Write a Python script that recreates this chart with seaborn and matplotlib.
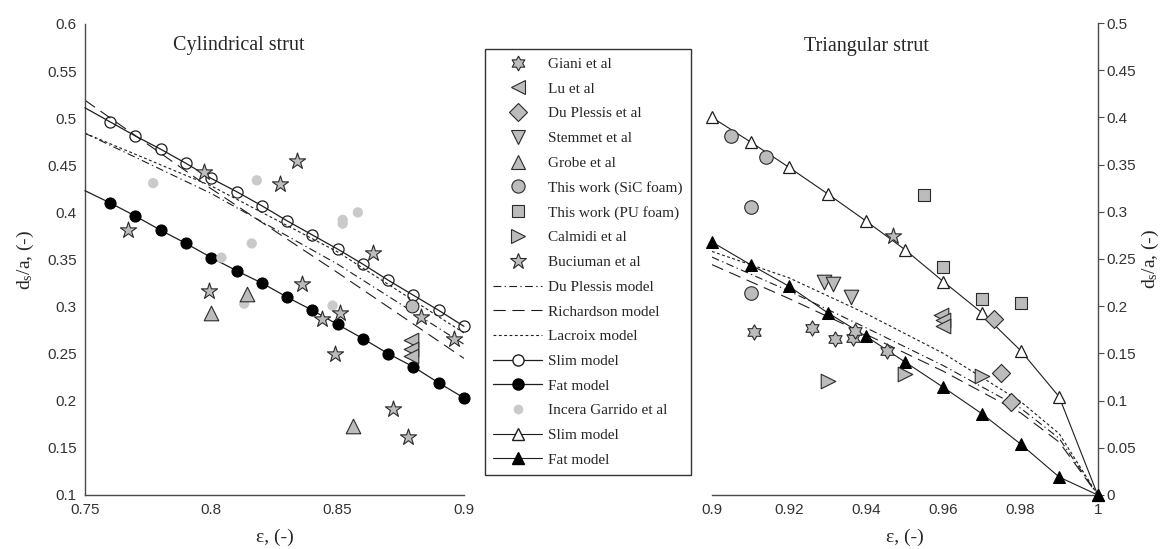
import matplotlib
matplotlib.use("Agg")
import numpy as np
import matplotlib.pyplot as plt
from matplotlib.lines import Line2D
from matplotlib.path import Path
import seaborn as sns

# ---------------- Cylindrical strut (left panel) ----------------
eps_cyl = [0.75, 0.76, 0.77, 0.78, 0.79, 0.80, 0.81, 0.82, 0.83, 0.84,
           0.85, 0.86, 0.87, 0.88, 0.89, 0.90]
slim_cyl = [0.511, 0.496, 0.481, 0.467, 0.452, 0.436, 0.422, 0.407, 0.391,
            0.376, 0.361, 0.345, 0.328, 0.312, 0.296, 0.279]
fat_cyl = [0.423, 0.410, 0.396, 0.381, 0.367, 0.352, 0.338, 0.325, 0.310,
           0.296, 0.281, 0.266, 0.250, 0.236, 0.219, 0.203]

eps_model_cyl = [0.75, 0.80, 0.85, 0.90]
duplessis_cyl = [0.484, 0.420, 0.345, 0.260]
richardson_cyl = [0.519, 0.425, 0.336, 0.245]
lacroix_cyl = [0.484, 0.428, 0.358, 0.272]

buciuman_cyl_x = [0.767, 0.797, 0.799, 0.827, 0.834, 0.836, 0.844, 0.849,
                  0.851, 0.864, 0.872, 0.878, 0.883, 0.896]
buciuman_cyl_y = [0.381, 0.443, 0.317, 0.430, 0.455, 0.324, 0.287, 0.250,
                  0.293, 0.357, 0.191, 0.162, 0.289, 0.266]
grobe_cyl_x = [0.800, 0.814, 0.856]
grobe_cyl_y = [0.293, 0.313, 0.173]
lu_cyl_x = [0.879, 0.879, 0.879]
lu_cyl_y = [0.264, 0.255, 0.248]
sic_cyl_x = [0.8795]
sic_cyl_y = [0.301]
incera_x = [0.777, 0.804, 0.813, 0.816, 0.818, 0.848, 0.852, 0.852, 0.858]
incera_y = [0.431, 0.352, 0.303, 0.367, 0.434, 0.301, 0.392, 0.388, 0.400]

# ---------------- Triangular strut (right panel) ----------------
eps_tri = [0.90, 0.91, 0.92, 0.93, 0.94, 0.95, 0.96, 0.97, 0.98, 0.99, 1.00]
slim_tri = [0.400, 0.374, 0.347, 0.319, 0.290, 0.260, 0.226, 0.193, 0.153,
            0.104, 0.0]
fat_tri = [0.268, 0.244, 0.221, 0.193, 0.168, 0.141, 0.114, 0.086, 0.054,
           0.019, 0.0]

eps_model_tri = [0.90, 0.92, 0.94, 0.96, 0.98, 0.99, 1.00]
lacroix_tri = [0.258, 0.230, 0.192, 0.150, 0.099, 0.065, 0.0]
duplessis_tri = [0.252, 0.216, 0.177, 0.137, 0.092, 0.060, 0.0]
richardson_tri = [0.244, 0.208, 0.170, 0.131, 0.087, 0.056, 0.0]

sic_tri_x = [0.905, 0.910, 0.914, 0.910]
sic_tri_y = [0.380, 0.305, 0.358, 0.214]
pu_tri_x = [0.955, 0.960, 0.970, 0.980]
pu_tri_y = [0.318, 0.241, 0.208, 0.203]
stemmet_x = [0.929, 0.9315, 0.936]
stemmet_y = [0.226, 0.224, 0.210]
lu_tri_x = [0.9595, 0.960, 0.960]
lu_tri_y = [0.191, 0.185, 0.179]
dup_pts_x = [0.973, 0.975, 0.9775]
dup_pts_y = [0.186, 0.129, 0.098]
calmidi_x = [0.930, 0.950, 0.970]
calmidi_y = [0.121, 0.128, 0.126]
giani_x = [0.911, 0.926, 0.932, 0.9365, 0.937, 0.9455]
giani_y = [0.173, 0.177, 0.165, 0.166, 0.174, 0.152]
buciuman_tri_x = [0.947]
buciuman_tri_y = [0.274]

# ---------------- ticks and labels ----------------
xticks_cyl = [0.75, 0.80, 0.85, 0.90]
xlabels_cyl = ["0.75", "0.8", "0.85", "0.9"]
yticks_cyl = [0.10, 0.15, 0.20, 0.25, 0.30, 0.35, 0.40, 0.45, 0.50, 0.55, 0.60]
ylabels_cyl = ["0.1", "0.15", "0.2", "0.25", "0.3", "0.35", "0.4", "0.45",
               "0.5", "0.55", "0.6"]
xticks_tri = [0.90, 0.92, 0.94, 0.96, 0.98, 1.00]
xlabels_tri = ["0.9", "0.92", "0.94", "0.96", "0.98", "1"]
yticks_tri = [0.0, 0.05, 0.10, 0.15, 0.20, 0.25, 0.30, 0.35, 0.40, 0.45, 0.50]
ylabels_tri = ["0", "0.05", "0.1", "0.15", "0.2", "0.25", "0.3", "0.35",
               "0.4", "0.45", "0.5"]

legend_labels = ["Giani et al", "Lu et al", "Du Plessis et al", "Stemmet et al",
                 "Grobe et al", "This work (SiC foam)", "This work (PU foam)",
                 "Calmidi et al", "Buciuman et al", "Du Plessis model",
                 "Richardson model", "Lacroix model", "Slim model", "Fat model",
                 "Incera Garrido et al", "Slim model", "Fat model"]

sns.set_style("white")
plt.rcParams["font.family"] = ["Liberation Serif", "DejaVu Serif"]
plt.rcParams["mathtext.fontset"] = "custom"
plt.rcParams["mathtext.rm"] = "Liberation Serif"
plt.rcParams["mathtext.it"] = "Liberation Serif:italic"

INK = "#1e1e1e"
GREY = "#bcbcbc"
LIGHT = "#cacaca"
AXC = "#4a4a4a"
TICKC = "#333333"

LS_DUP = (0, (7, 3, 1.2, 3))
LS_RICH = (0, (11, 6))
LS_LAC = (0, (2.6, 2.2))

# Star-of-David marker: two overlapping triangles
_ang = np.deg2rad(90 + 30 * np.arange(12))
_rad = np.where(np.arange(12) % 2 == 0, 1.0, 1 / np.sqrt(3))
_verts = np.column_stack([_rad * np.cos(_ang), _rad * np.sin(_ang)])
HEXAGRAM = Path(np.vstack([_verts, _verts[:1]]), closed=True)

fig = plt.figure(figsize=(11.62, 5.49), dpi=100)
ax1 = fig.add_axes([0.0731, 0.0984, 0.3262, 0.858])
ax2 = fig.add_axes([0.6127, 0.0984, 0.3320, 0.8597])

grey_kw = dict(color=GREY, edgecolor="#2a2a2a", linewidth=0.8, clip_on=False,
               zorder=4, legend=False)


def model_lines(ax, x, dup, rich, lac):
    sns.lineplot(x=x, y=lac, ax=ax, color=INK, linewidth=0.8, linestyle=LS_LAC,
                 errorbar=None, zorder=2)
    sns.lineplot(x=x, y=dup, ax=ax, color=INK, linewidth=0.8, linestyle=LS_DUP,
                 errorbar=None, zorder=2)
    sns.lineplot(x=x, y=rich, ax=ax, color=INK, linewidth=0.8, linestyle=LS_RICH,
                 errorbar=None, zorder=2)


# ---- left panel ----
model_lines(ax1, eps_model_cyl, duplessis_cyl, richardson_cyl, lacroix_cyl)
every = list(range(1, len(eps_cyl)))
sns.lineplot(x=eps_cyl, y=slim_cyl, ax=ax1, color=INK, linewidth=0.9,
             marker="o", markersize=8, markerfacecolor="none",
             markeredgecolor=INK, markeredgewidth=0.9, markevery=every,
             errorbar=None, clip_on=False, zorder=3)
sns.lineplot(x=eps_cyl, y=fat_cyl, ax=ax1, color=INK, linewidth=0.9,
             marker="o", markersize=8, markerfacecolor="black",
             markeredgecolor="black", markevery=every,
             errorbar=None, clip_on=False, zorder=3)
sns.scatterplot(x=incera_x, y=incera_y, ax=ax1, color=LIGHT, s=55,
                edgecolor="none", marker="o", zorder=3, legend=False)
sns.scatterplot(x=sic_cyl_x, y=sic_cyl_y, ax=ax1, marker="o", s=85, **grey_kw)
sns.scatterplot(x=grobe_cyl_x, y=grobe_cyl_y, ax=ax1, marker="^", s=110, **grey_kw)
sns.scatterplot(x=lu_cyl_x, y=lu_cyl_y, ax=ax1, marker="<", s=110, **grey_kw)
sns.scatterplot(x=buciuman_cyl_x, y=buciuman_cyl_y, ax=ax1, marker="*", s=150,
                **grey_kw)

# ---- right panel ----
model_lines(ax2, eps_model_tri, duplessis_tri, richardson_tri, lacroix_tri)
sns.lineplot(x=eps_tri, y=slim_tri, ax=ax2, color=INK, linewidth=0.8,
             marker="^", markersize=8.5, markerfacecolor="white",
             markeredgecolor=INK, markeredgewidth=0.9,
             errorbar=None, clip_on=False, zorder=3)
sns.lineplot(x=eps_tri, y=fat_tri, ax=ax2, color=INK, linewidth=0.8,
             marker="^", markersize=8.5, markerfacecolor="black",
             markeredgecolor="black",
             errorbar=None, clip_on=False, zorder=3)
sns.scatterplot(x=sic_tri_x, y=sic_tri_y, ax=ax2, marker="o", s=95, **grey_kw)
sns.scatterplot(x=pu_tri_x, y=pu_tri_y, ax=ax2, marker="s", s=85, **grey_kw)
sns.scatterplot(x=stemmet_x, y=stemmet_y, ax=ax2, marker="v", s=110, **grey_kw)
sns.scatterplot(x=lu_tri_x, y=lu_tri_y, ax=ax2, marker="<", s=110, **grey_kw)
sns.scatterplot(x=dup_pts_x, y=dup_pts_y, ax=ax2, marker="D", s=85, **grey_kw)
sns.scatterplot(x=calmidi_x, y=calmidi_y, ax=ax2, marker=">", s=110, **grey_kw)
sns.scatterplot(x=giani_x, y=giani_y, ax=ax2, marker=HEXAGRAM, s=120, **grey_kw)
sns.scatterplot(x=buciuman_tri_x, y=buciuman_tri_y, ax=ax2, marker="*", s=150,
                **grey_kw)

# ---- axes cosmetics ----
sans = "Liberation Sans"
ax1.set_xlim(0.75, 0.90)
ax1.set_ylim(0.10, 0.60)
ax1.set_xticks(xticks_cyl)
ax1.set_xticklabels(xlabels_cyl, fontfamily=sans, fontsize=11, color=TICKC)
ax1.set_yticks(yticks_cyl)
ax1.set_yticklabels(ylabels_cyl, fontfamily=sans, fontsize=11, color=TICKC)
ax1.tick_params(axis="x", direction="in", length=4, width=0.8, color=AXC, pad=6)
ax1.tick_params(axis="y", direction="out", length=4, width=0.8, color=AXC, pad=2)
for side in ("top", "right"):
    ax1.spines[side].set_visible(False)
for side in ("left", "bottom"):
    ax1.spines[side].set_color(AXC)
    ax1.spines[side].set_linewidth(1.0)
ax1.set_xlabel("ε, (-)", fontsize=14, labelpad=8)
ax1.set_ylabel(r"d$_\mathregular{s}$/a, (-)", fontsize=14, labelpad=8)
ax1.text(0.405, 0.955, "Cylindrical strut", transform=ax1.transAxes,
         ha="center", va="center", fontsize=14.5)

ax2.set_xlim(0.90, 1.00)
ax2.set_ylim(0.0, 0.50)
ax2.set_xticks(xticks_tri)
ax2.set_xticklabels(xlabels_tri, fontfamily=sans, fontsize=11, color=TICKC)
ax2.yaxis.tick_right()
ax2.yaxis.set_label_position("right")
ax2.set_yticks(yticks_tri)
ax2.set_yticklabels(ylabels_tri, fontfamily=sans, fontsize=11, color=TICKC)
ax2.tick_params(axis="x", direction="in", length=4, width=0.8, color=AXC, pad=6)
ax2.tick_params(axis="y", direction="out", length=4, width=0.8, color=AXC, pad=2)
for side in ("top", "left"):
    ax2.spines[side].set_visible(False)
for side in ("right", "bottom"):
    ax2.spines[side].set_color(AXC)
    ax2.spines[side].set_linewidth(1.0)
ax2.set_xlabel("ε, (-)", fontsize=14, labelpad=8)
ax2.set_ylabel(r"d$_\mathregular{s}$/a, (-)", fontsize=14, labelpad=3,
               rotation=90)
ax2.text(0.40, 0.95, "Triangular strut", transform=ax2.transAxes,
         ha="center", va="center", fontsize=14.5)

# ---- shared legend ----
def pt(marker, size, face=GREY, edge="#2a2a2a"):
    return Line2D([], [], linestyle="none", marker=marker, markersize=size,
                  markerfacecolor=face, markeredgecolor=edge, markeredgewidth=0.8)


handles = [
    pt(HEXAGRAM, 10.5),
    pt("<", 10),
    pt("D", 9),
    pt("v", 10),
    pt("^", 10),
    pt("o", 9.5),
    pt("s", 9),
    pt(">", 10),
    pt("*", 12),
    Line2D([], [], color=INK, linewidth=0.8, linestyle=LS_DUP),
    Line2D([], [], color=INK, linewidth=0.8, linestyle=LS_RICH),
    Line2D([], [], color=INK, linewidth=0.8, linestyle=LS_LAC),
    Line2D([], [], color=INK, linewidth=0.9, marker="o", markersize=8,
           markerfacecolor="white", markeredgecolor=INK),
    Line2D([], [], color=INK, linewidth=0.9, marker="o", markersize=8,
           markerfacecolor="black", markeredgecolor="black"),
    Line2D([], [], linestyle="none", marker="o", markersize=7,
           markerfacecolor=LIGHT, markeredgecolor="none"),
    Line2D([], [], color=INK, linewidth=0.8, marker="^", markersize=8.5,
           markerfacecolor="white", markeredgecolor=INK),
    Line2D([], [], color=INK, linewidth=0.8, marker="^", markersize=8.5,
           markerfacecolor="black", markeredgecolor="black"),
]
leg = fig.legend(handles, legend_labels, loc="upper left",
                 bbox_to_anchor=(485 / 1162, 1 - 49 / 549), borderaxespad=0,
                 fontsize=11, frameon=True, fancybox=False, framealpha=1,
                 edgecolor="#333333", labelspacing=0.72, handlelength=3.2,
                 handletextpad=0.4, borderpad=0.55)
leg.get_frame().set_linewidth(1.0)

fig.savefig("out.png", dpi=100)
